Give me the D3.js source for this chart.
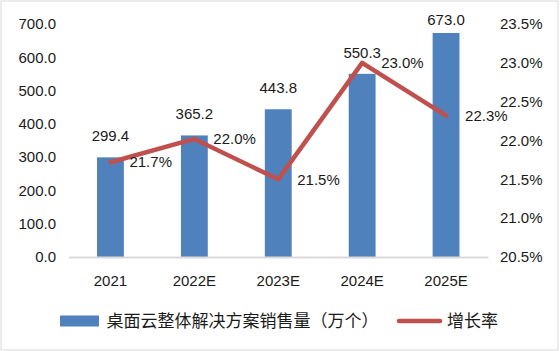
<!DOCTYPE html>
<html>
<head>
<meta charset="utf-8">
<script src="https://cdn.jsdelivr.net/npm/d3@7"></script>
<style>
  body { margin: 0; background: #fff; }
  svg text { fill: #1a1a1a; }
</style>
</head>
<body>
<svg id="chart" width="560" height="351"></svg>
<script>
// chart data
const categories = ["2021", "2022E", "2023E", "2024E", "2025E"];
const salesValues = [299.4, 365.2, 443.8, 550.3, 673.0];
const growthValues = [21.72, 22.02, 21.5, 23.0, 22.32];
const growthLabels = ["21.7%", "22.0%", "21.5%", "23.0%", "22.3%"];
const leftTicks = [0, 100, 200, 300, 400, 500, 600, 700];
const rightTicks = [20.5, 21.0, 21.5, 22.0, 22.5, 23.0, 23.5];
const barName = "桌面云整体解决方案销售量（万个）";
const lineName = "增长率";

const barColor = "#4f81bd";
const lineColor = "#c0504d";
const numFont = "'Liberation Sans', Arial, sans-serif";
const cjkFont = "'Noto Sans CJK SC', sans-serif";

const svg = d3.select("#chart");

// outer border
svg.append("rect")
    .attr("x", 1).attr("y", 1)
    .attr("width", 557).attr("height", 349)
    .attr("fill", "#fff")
    .attr("stroke", "#d9d9d9")
    .attr("stroke-width", 1);

const plot = { left: 68.5, right: 488, top: 24, bottom: 257 };

const x = d3.scaleBand()
    .domain(categories)
    .range([plot.left, plot.right])
    .paddingInner(0.68)
    .paddingOuter(0.34);

const yLeft = d3.scaleLinear().domain([0, 700]).range([plot.bottom, plot.top]);
const yRight = d3.scaleLinear().domain([20.5, 23.5]).range([plot.bottom, plot.top]);

// left axis labels
svg.append("g")
    .attr("transform", `translate(56,0)`)
    .call(d3.axisLeft(yLeft).tickValues(leftTicks).tickSize(0).tickPadding(0)
        .tickFormat(d => d.toFixed(1)))
    .call(g => g.select(".domain").remove())
    .selectAll("text")
    .style("font-family", numFont)
    .style("font-size", "15px");

// right axis labels
svg.append("g")
    .attr("transform", `translate(500,0)`)
    .call(d3.axisRight(yRight).tickValues(rightTicks).tickSize(0).tickPadding(0)
        .tickFormat(d => d.toFixed(1) + "%"))
    .call(g => g.select(".domain").remove())
    .selectAll("text")
    .style("font-family", numFont)
    .style("font-size", "15px");

// bars
svg.append("g")
    .selectAll("rect")
    .data(salesValues)
    .join("rect")
    .attr("x", (d, i) => x(categories[i]))
    .attr("y", d => yLeft(d))
    .attr("width", x.bandwidth())
    .attr("height", d => plot.bottom - yLeft(d))
    .attr("fill", barColor);

// category axis
svg.append("g")
    .attr("transform", `translate(0,${plot.bottom})`)
    .call(d3.axisBottom(x).tickSize(0).tickSizeOuter(0).tickPadding(18))
    .call(g => g.select(".domain").attr("stroke", "#d9d9d9").attr("stroke-width", 2))
    .selectAll("text")
    .style("font-family", numFont)
    .style("font-size", "15px");

// bar value labels (top one pushed down to stay in the chart)
svg.append("g")
    .selectAll("text")
    .data(salesValues)
    .join("text")
    .attr("x", (d, i) => x(categories[i]) + x.bandwidth() / 2)
    .attr("y", d => Math.max(yLeft(d) - 16, 24.5))
    .attr("text-anchor", "middle")
    .style("font-family", numFont)
    .style("font-size", "15px")
    .text(d => d.toFixed(1));

// growth line
const cx = (d, i) => x(categories[i]) + x.bandwidth() / 2;
const line = d3.line()
    .x(cx)
    .y(d => yRight(d));

svg.append("path")
    .datum(growthValues)
    .attr("fill", "none")
    .attr("stroke", lineColor)
    .attr("stroke-width", 4.5)
    .attr("stroke-linejoin", "round")
    .attr("stroke-linecap", "round")
    .attr("d", line);

// growth labels to the right of each point
svg.append("g")
    .selectAll("text")
    .data(growthValues)
    .join("text")
    .attr("x", (d, i) => cx(d, i) + 19)
    .attr("y", d => yRight(d))
    .attr("dy", "0.35em")
    .style("font-family", numFont)
    .style("font-size", "15px")
    .text((d, i) => growthLabels[i]);

// legend
const legendY = 321;
svg.append("rect")
    .attr("x", 60).attr("y", legendY - 5.5)
    .attr("width", 39).attr("height", 11)
    .attr("fill", barColor);
svg.append("text")
    .attr("x", 106.5).attr("y", legendY)
    .attr("dy", "0.36em")
    .style("font-family", cjkFont)
    .style("font-size", "17px")
    .text(barName);
svg.append("line")
    .attr("x1", 399).attr("x2", 440)
    .attr("y1", legendY).attr("y2", legendY)
    .attr("stroke", lineColor)
    .attr("stroke-width", 4.5)
    .attr("stroke-linecap", "round");
svg.append("text")
    .attr("x", 447).attr("y", legendY)
    .attr("dy", "0.36em")
    .style("font-family", cjkFont)
    .style("font-size", "17px")
    .text(lineName);
</script>
</body>
</html>
